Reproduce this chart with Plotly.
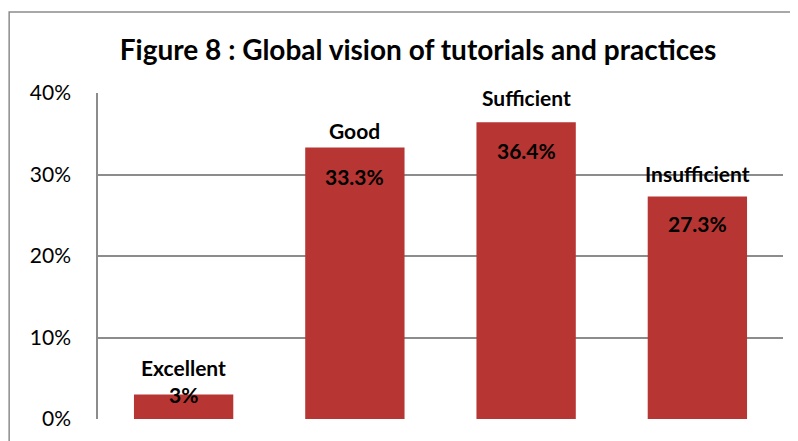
import plotly.graph_objects as go

categories = ["Excellent", "Good", "Sufficient", "Insufficient"]
shares = [3.0, 33.3, 36.4, 27.3]
value_text = ["3%", "33.3%", "36.4%", "27.3%"]
y_ticks = [0, 10, 20, 30, 40]
y_tick_text = ["0%", "10%", "20%", "30%", "40%"]

# pixel offsets of the labels from the bar top (name above, value inside)
name_shift = [27, 17, 25, 23]
value_shift = [0, -29, -28, -27]

FONT = "Lato"
GRID = "#8c8c8c"

fig = go.Figure()
fig.add_trace(go.Bar(
    x=categories,
    y=shares,
    marker=dict(color="#b73533", line=dict(width=0)),
    hoverinfo="skip",
))

for cat, val, txt, ns, vs in zip(categories, shares, value_text, name_shift, value_shift):
    fig.add_annotation(x=cat, y=val, text="<b>%s</b>" % cat, showarrow=False,
                       yshift=ns, yanchor="middle",
                       font=dict(family=FONT, size=21, color="black"))
    fig.add_annotation(x=cat, y=val, text="<b>%s</b>" % txt, showarrow=False,
                       yshift=vs, yanchor="middle",
                       font=dict(family=FONT, size=21, color="black"))

# outer chart border (right and bottom edges fall outside the picture)
fig.add_shape(type="rect", xref="paper", yref="paper",
              x0=-0.1297, x1=1.2, y0=-0.3, y1=1.2485,
              line=dict(color=GRID, width=1.5), fillcolor="rgba(0,0,0,0)", layer="below")

fig.update_layout(
    width=790, height=433,
    margin=dict(l=90, r=15, t=85, b=22),
    paper_bgcolor="white", plot_bgcolor="white",
    bargap=0.42,
    showlegend=False,
    title=dict(text="<b>Figure 8 : Global vision of tutorials and practices</b>",
               x=0.519, xanchor="center", y=0.903, yanchor="middle", yref="container",
               font=dict(family=FONT, size=28, color="black")),
    xaxis=dict(showticklabels=False, ticks="", showgrid=False, zeroline=False,
               showline=False),
    yaxis=dict(range=[0, 40], tickvals=y_ticks, ticktext=y_tick_text,
               showgrid=True, gridcolor=GRID, gridwidth=1.5, zeroline=False,
               showline=True, linecolor=GRID, linewidth=1.5, ticks="",
               ticklabelstandoff=21,
               tickfont=dict(family=FONT, size=21, color="black")),
)

fig.write_html("out.html")
